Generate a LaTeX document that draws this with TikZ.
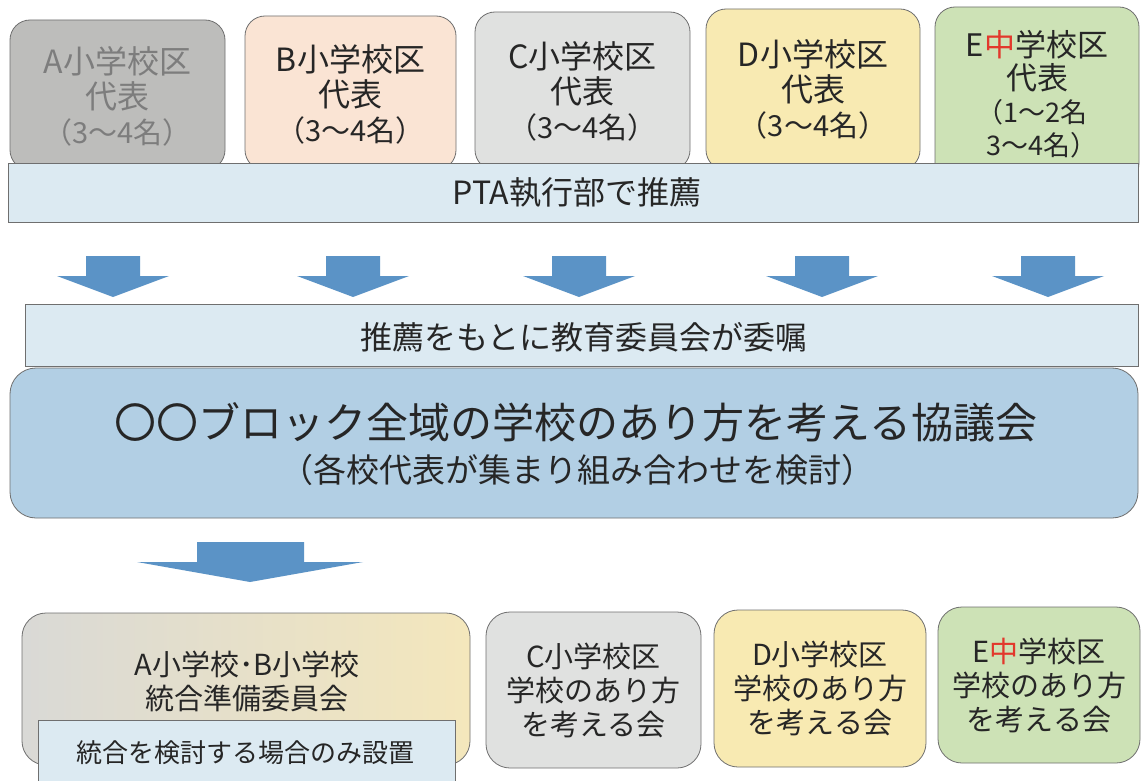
\documentclass[tikz,border=0pt]{standalone}
\usepackage{fontspec}
\setmainfont{Noto Sans CJK JP}
\usetikzlibrary{positioning}
\definecolor{boxgrayA}{HTML}{BDBDBB}
\definecolor{boxpeach}{HTML}{FAE4D4}
\definecolor{boxgrayC}{HTML}{E0E1E0}
\definecolor{boxyellow}{HTML}{F8EAB2}
\definecolor{boxgreen}{HTML}{CDE2B6}
\definecolor{barblue}{HTML}{DCEAF2}
\definecolor{bigblue}{HTML}{B2CFE4}
\definecolor{arrowblue}{HTML}{5B93C6}
\definecolor{edgegray}{HTML}{6F6F6F}
\definecolor{textgray}{HTML}{7D7D7D}
\definecolor{textdark}{HTML}{262626}
\definecolor{chured}{HTML}{E2382C}
\definecolor{mixgray}{HTML}{D9D9D6}
\definecolor{mixyellow}{HTML}{F4E7BC}

\begin{document}
\begin{tikzpicture}[x=1pt,y=-1pt,
  schoolbox/.style={draw=edgegray,line width=0.8pt,rounded corners=20pt,inner sep=0pt,outer sep=0pt},
  barbox/.style={draw=edgegray,line width=0.9pt,fill=barblue,inner sep=0pt,outer sep=0pt},
  toptext/.style={align=center,text=textdark,font=\fontsize{32}{35}\selectfont},
  lowtext/.style={align=center,text=textdark,font=\fontsize{29}{34}\selectfont}]
\useasboundingbox (0,0) rectangle (1141,781);
\fill[white] (0,0) rectangle (1141,781);

% representatives of each school district
\node[schoolbox,fill=boxgrayA,minimum width=215pt,minimum height=150pt] (repA) at (117.5,95) {};
\node[schoolbox,fill=boxpeach,minimum width=211pt,minimum height=154pt] (repB) at (350.5,93) {};
\node[schoolbox,fill=boxgrayC,minimum width=215pt,minimum height=158pt] (repC) at (582.5,91) {};
\node[schoolbox,fill=boxyellow,minimum width=214pt,minimum height=161pt] (repD) at (813,89.5) {};
\node[schoolbox,fill=boxgreen,minimum width=204pt,minimum height=176pt] (repE) at (1037,95) {};
\node[toptext,text=textgray] (repAtext) at (117.5,96) {A小学校区\\代表\\{\fontsize{29}{35}\selectfont （3～4名）}};
\node[toptext] (repBtext) at (350.5,94) {B小学校区\\代表\\{\fontsize{29}{35}\selectfont （3～4名）}};
\node[toptext] (repCtext) at (582.5,91) {C小学校区\\代表\\{\fontsize{29}{35}\selectfont （3～4名）}};
\node[toptext] (repDtext) at (813,89) {D小学校区\\代表\\{\fontsize{29}{35}\selectfont （3～4名）}};
\node[toptext,font=\fontsize{31}{33}\selectfont] (repEtext) at (1037,94) {E\textcolor{chured}{中}学校区\\代表\\{\fontsize{27}{31}\selectfont \hspace*{-0.4em}（1～2名}\\{\fontsize{27}{31}\selectfont 3～4名）\hspace*{-0.4em}}};

% recommendation bars
\node[barbox,minimum width=1130pt,minimum height=59pt] (pta) at (573,192.5) {};
\node[toptext] (ptatext) at (577,193) {PTA執行部で推薦};

\foreach \ax in {113,353,579,822,1048}
  \fill[arrowblue] (\ax-27,256) -- (\ax+27,256) -- (\ax+27,276) -- (\ax+56,276) -- (\ax,297) -- (\ax-56,276) -- (\ax-27,276) -- cycle;

\node[barbox,minimum width=1113pt,minimum height=62pt] (board) at (581.5,335) {};
\node[toptext] (boardtext) at (584,337) {推薦をもとに教育委員会が委嘱};

% council
\node[schoolbox,fill=bigblue,rounded corners=26pt,minimum width=1128pt,minimum height=150pt] (council) at (574,443) {};
\node[text=textdark,font=\fontsize{42}{46}\selectfont] (counciltitle) at (576,422) {〇〇ブロック全域の学校のあり方を考える協議会};
\node[text=textdark,font=\fontsize{33}{36}\selectfont] (councilsub) at (577,470) {（各校代表が集まり組み合わせを検討）};

\fill[arrowblue] (197,542) -- (304,542) -- (304,562) -- (363,562) -- (250,582) -- (137,562) -- (197,562) -- cycle;

% meetings of each district
\node[schoolbox,rounded corners=24pt,left color=mixgray,right color=mixyellow,minimum width=448pt,minimum height=152pt] (prep) at (246,689) {};
\node[lowtext] (preptext) at (247,681) {A小学校･B小学校\\統合準備委員会};
\node[draw=edgegray,line width=0.8pt,fill=barblue,minimum width=417pt,minimum height=80pt,inner sep=0pt] (preponly) at (246.5,760) {};
\node[text=textdark,font=\fontsize{26}{30}\selectfont] (preponlytext) at (245,753) {統合を検討する場合のみ設置};

\node[schoolbox,rounded corners=24pt,fill=boxgrayC,minimum width=215pt,minimum height=156pt] (meetC) at (593.5,690) {};
\node[schoolbox,rounded corners=24pt,fill=boxyellow,minimum width=212pt,minimum height=157pt] (meetD) at (820,688.5) {};
\node[schoolbox,rounded corners=24pt,fill=boxgreen,minimum width=202pt,minimum height=156pt] (meetE) at (1039,685) {};
\node[lowtext] (meetCtext) at (593.5,690) {C小学校区\\学校のあり方\\を考える会};
\node[lowtext] (meetDtext) at (820,688.5) {D小学校区\\学校のあり方\\を考える会};
\node[lowtext] (meetEtext) at (1039,685) {E\textcolor{chured}{中}学校区\\学校のあり方\\を考える会};

\end{tikzpicture}
\end{document}
